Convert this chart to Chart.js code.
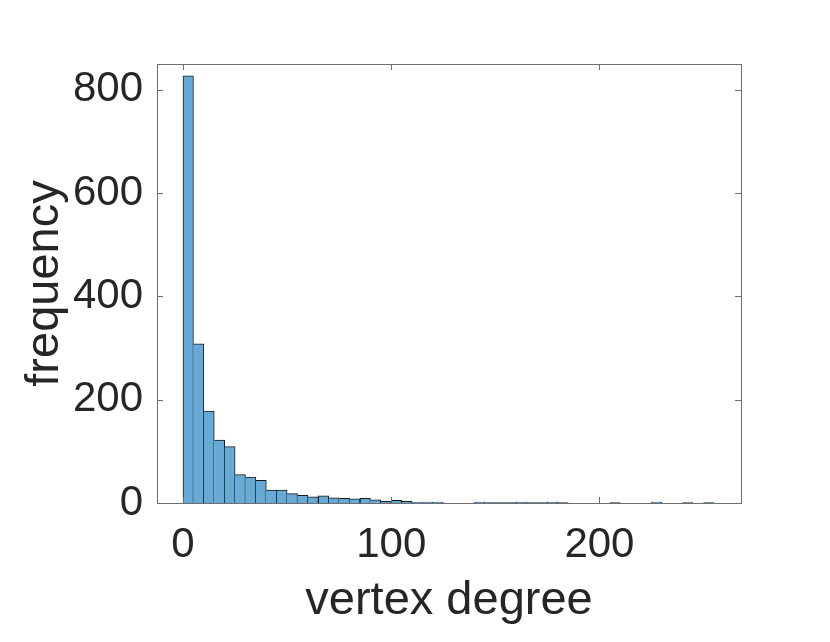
<!DOCTYPE html>
<html>
<head>
<meta charset="utf-8">
<script src="https://cdn.jsdelivr.net/npm/chart.js@4"></script>
<style>
  html, body { margin: 0; padding: 0; background: #fff; }
  #wrap { width: 830px; height: 642px; }
</style>
</head>
<body>
<div id="wrap"><canvas id="hist" width="830" height="642"></canvas></div>
<script>
// bin left edges (width 5) and counts
const binWidth = 5;
const binStarts = [0, 5, 10, 15, 20, 25, 30, 35, 40, 45, 50, 55, 60, 65, 70, 75, 80, 85, 90, 95,
    100, 105, 110, 115, 120, 125, 130, 135, 140, 145, 150, 155, 160, 165, 170, 175, 180, 185, 190, 195,
    200, 205, 210, 215, 220, 225, 230, 235, 240, 245, 250];
const counts = [827, 308, 178, 122, 109, 55, 50, 44, 25, 25, 18, 15, 12, 14, 10, 9, 8, 9, 6, 3,
    5, 3, 2, 2, 2, 0, 0, 0, 2, 1, 1, 1, 2, 1, 1, 2, 1, 0, 0, 0,
    0, 1, 0, 0, 0, 2, 0, 0, 1, 0, 1];
const xTicks = [0, 100, 200];
const yTicks = [0, 200, 400, 600, 800];
const xRange = [-12.5, 268];
const yRange = [0, 850];

const textColor = "#262626";
const boxColor = "#6e6e6e";
const font = "'Liberation Sans', Helvetica, Arial, sans-serif";

// box around the axes with inward ticks, like MATLAB
const boxPlugin = {
    id: "box",
    afterDraw(chart) {
        const { ctx, chartArea: a, scales } = chart;
        ctx.save();
        ctx.strokeStyle = boxColor;
        ctx.lineWidth = 1;
        ctx.strokeRect(Math.round(a.left) + 0.5, Math.round(a.top) + 0.5,
            Math.round(a.right - a.left), Math.round(a.bottom - a.top));
        ctx.beginPath();
        yTicks.forEach(v => {
            const y = Math.round(scales.y.getPixelForValue(v)) + 0.5;
            ctx.moveTo(a.left, y); ctx.lineTo(a.left + 6, y);
            ctx.moveTo(a.right, y); ctx.lineTo(a.right - 6, y);
        });
        xTicks.forEach(v => {
            const x = Math.round(scales.x.getPixelForValue(v)) + 0.5;
            ctx.moveTo(x, a.bottom); ctx.lineTo(x, a.bottom - 6);
            ctx.moveTo(x, a.top); ctx.lineTo(x, a.top + 6);
        });
        ctx.stroke();
        ctx.restore();
    }
};

const ctx = document.getElementById("hist").getContext("2d");
new Chart(ctx, {
    type: "bar",
    data: {
        datasets: [{
            data: binStarts.map((s, i) => ({ x: s + binWidth / 2, y: counts[i] })),
            backgroundColor: "#66aad7",
            borderColor: "#1a1a1a",
            borderWidth: (c) => {
                const i = c.dataIndex;
                const left = (i === 0 || counts[i] > counts[i - 1]) ? 1 : 0;
                return { top: 1, right: 1, left: left, bottom: 0 };
            },
            borderSkipped: false,
            barPercentage: 1,
            categoryPercentage: 1
        }]
    },
    options: {
        responsive: false,
        animation: false,
        layout: { padding: { top: 64, right: 89, left: 0, bottom: 0 } },
        plugins: { legend: { display: false }, tooltip: { enabled: false } },
        scales: {
            x: {
                type: "linear",
                offset: false,
                min: xRange[0],
                max: xRange[1],
                afterBuildTicks: (s) => { s.ticks = xTicks.map(v => ({ value: v })); },
                afterFit: (s) => { s.height = 139; },
                grid: { display: false, offset: false },
                border: { display: false },
                ticks: { color: textColor, font: { family: font, size: 42 }, padding: 9, maxRotation: 0 },
                title: { display: true, text: "vertex degree", color: textColor,
                    font: { family: font, size: 47 }, padding: { top: 0, bottom: 13 } }
            },
            y: {
                min: yRange[0],
                max: yRange[1],
                afterBuildTicks: (s) => { s.ticks = yTicks.map(v => ({ value: v })); },
                afterFit: (s) => { s.width = 157; },
                grid: { display: false },
                border: { display: false },
                ticks: { color: textColor, font: { family: font, size: 42 }, padding: 6 },
                title: { display: true, text: "frequency", color: textColor,
                    font: { family: font, size: 47 }, padding: { top: 17, bottom: 0 } }
            }
        }
    },
    plugins: [boxPlugin]
});
</script>
</body>
</html>
